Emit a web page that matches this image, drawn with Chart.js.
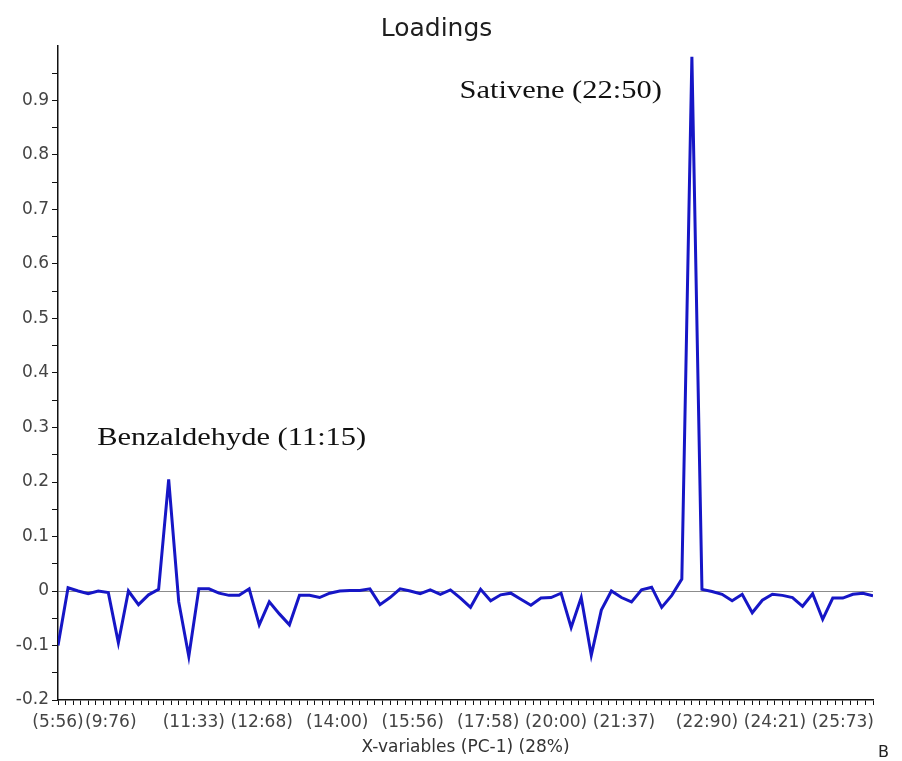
<!DOCTYPE html>
<html>
<head>
<meta charset="utf-8">
<title>Loadings</title>
<script src="https://cdn.jsdelivr.net/npm/chart.js@4"></script>
<style>
  html, body { margin: 0; padding: 0; background: #ffffff; }
  #wrap { width: 902px; height: 761px; position: relative; }
</style>
</head>
<body>
<div id="wrap"><canvas id="chart" width="902" height="761"></canvas></div>
<script>
// PC-1 loading of each X-variable, in variable order
const loadings = [
  -0.100, 0.006, 0.000, -0.005, 0.000, -0.003, -0.095, 0.000, -0.025, -0.007,
   0.003, 0.205, -0.020, -0.120, 0.004, 0.004, -0.004, -0.008, -0.008, 0.004,
  -0.062, -0.020, -0.042, -0.062, -0.008, -0.008, -0.012, -0.004, 0.000, 0.001,
   0.001, 0.004, -0.025, -0.012, 0.004, 0.000, -0.005, 0.002, -0.006, 0.002,
  -0.013, -0.030, 0.003, -0.018, -0.007, -0.004, -0.015, -0.026, -0.013, -0.012,
  -0.004, -0.067, -0.012, -0.118, -0.035, 0.000, -0.012, -0.020, 0.002, 0.007,
  -0.030, -0.008, 0.022, 0.980, 0.003, -0.001, -0.006, -0.018, -0.006, -0.040,
  -0.017, -0.006, -0.008, -0.012, -0.028, -0.005, -0.052, -0.013, -0.013, -0.006,
  -0.004, -0.009
];

// Retention-time labels printed under the axis and the minor tick each sits on
const xTickLabels = ['(5:56)', '(9:76)', '(11:33)', '(12:68)', '(14:00)', '(15:56)',
                     '(17:58)', '(20:00)', '(21:37)', '(22:90)', '(24:21)', '(25:73)'];
const xTickSlots  = [0, 7, 18, 27, 37, 47, 57, 66, 75, 86, 95, 104];

// Compounds named next to their peaks
const peakNames = ['Benzaldehyde (11:15)', 'Sativene (22:50)'];

// Axis set-up
const X_MINOR_TICKS = 109;                    // tick marks along the variable axis
const X_STEP = (loadings.length - 1) / (X_MINOR_TICKS - 1);
const Y_MIN = -0.2, Y_MAX = 1.0, Y_MINOR = 0.05;

const labelBySlot = {};
xTickSlots.forEach((s, i) => { labelBySlot[s] = xTickLabels[i]; });

// Peak captions, anchored in data units (left edge, vertical middle)
const captions = [
  { text: peakNames[0], x: 3.9,  y: 0.280 },
  { text: peakNames[1], x: 39.9, y: 0.917 }
];

const captionPlugin = {
  id: 'captions',
  afterDatasetsDraw(chart) {
    const { ctx, scales: { x, y } } = chart;
    ctx.save();
    ctx.fillStyle = '#111111';
    ctx.textBaseline = 'middle';
    ctx.textAlign = 'left';
    ctx.font = '25px "Liberation Serif", "Times New Roman", serif';
    captions.forEach(c => {
      ctx.save();
      ctx.translate(x.getPixelForValue(c.x), y.getPixelForValue(c.y));
      ctx.scale(1.22, 1);
      ctx.fillText(c.text, 0, 0);
      ctx.restore();
    });
    // panel letter
    ctx.font = '16px "DejaVu Sans", sans-serif';
    ctx.fillStyle = '#222222';
    ctx.fillText('B', 878, 753);
    ctx.restore();
  }
};

const sansFont = '"DejaVu Sans", "Liberation Sans", sans-serif';

new Chart(document.getElementById('chart'), {
  type: 'line',
  data: {
    datasets: [{
      label: 'PC-1',
      data: loadings.map((v, i) => ({ x: i, y: v })),
      borderColor: '#1616c6',
      borderWidth: 3,
      pointRadius: 0,
      tension: 0,
      fill: false
    }]
  },
  options: {
    responsive: false,
    animation: false,
    devicePixelRatio: 1,
    layout: { padding: { left: 0, right: 29, top: 0, bottom: 0 } },
    plugins: {
      legend: { display: false },
      tooltip: { enabled: false },
      title: {
        display: true,
        text: 'Loadings',
        color: '#1e1e1e',
        font: { family: sansFont, size: 25, weight: 'normal' },
        padding: { top: 14, bottom: 2 }
      }
    },
    scales: {
      x: {
        type: 'linear',
        min: 0,
        max: loadings.length - 1,
        afterBuildTicks(scale) {
          scale.ticks = Array.from({ length: X_MINOR_TICKS }, (_, k) => ({ value: k * X_STEP }));
        },
        afterFit(scale) { scale.height = 61; },
        ticks: {
          autoSkip: false,
          maxRotation: 0,
          minRotation: 0,
          padding: 7,
          color: '#444444',
          font: { family: sansFont, size: 17 },
          callback(value, index) { return labelBySlot[index] || ''; }
        },
        grid: {
          display: true,
          drawOnChartArea: false,
          drawTicks: true,
          tickLength: 5,
          tickColor: '#111111',
          tickWidth: 1
        },
        border: { display: true, color: '#111111', width: 1.5 },
        title: {
          display: true,
          text: 'X-variables (PC-1) (28%)',
          color: '#333333',
          font: { family: sansFont, size: 17 },
          padding: { top: 2, bottom: 3 }
        }
      },
      y: {
        type: 'linear',
        min: Y_MIN,
        max: Y_MAX,
        afterBuildTicks(scale) {
          const ticks = [];
          for (let k = Math.round(Y_MIN / Y_MINOR); k < Math.round(Y_MAX / Y_MINOR); k++) {
            ticks.push({ value: k * Y_MINOR });
          }
          scale.ticks = ticks;
        },
        afterFit(scale) { scale.width = 58; },
        ticks: {
          autoSkip: false,
          padding: 3,
          color: '#444444',
          font: { family: sansFont, size: 17 },
          callback(value) {
            const halves = Math.round(value * 20);
            if (halves % 2 !== 0) return '';
            return String(Math.round(value * 10) / 10);
          }
        },
        grid: {
          display: true,
          drawOnChartArea: true,
          drawTicks: true,
          tickLength: 6,
          tickColor: '#111111',
          tickWidth: 1,
          lineWidth: 1,
          color(ctx) {
            return (ctx.tick && Math.abs(ctx.tick.value) < 1e-9) ? '#8c8c8c' : 'rgba(0,0,0,0)';
          }
        },
        border: { display: true, color: '#111111', width: 1.5 }
      }
    }
  },
  plugins: [captionPlugin]
});
</script>
</body>
</html>
